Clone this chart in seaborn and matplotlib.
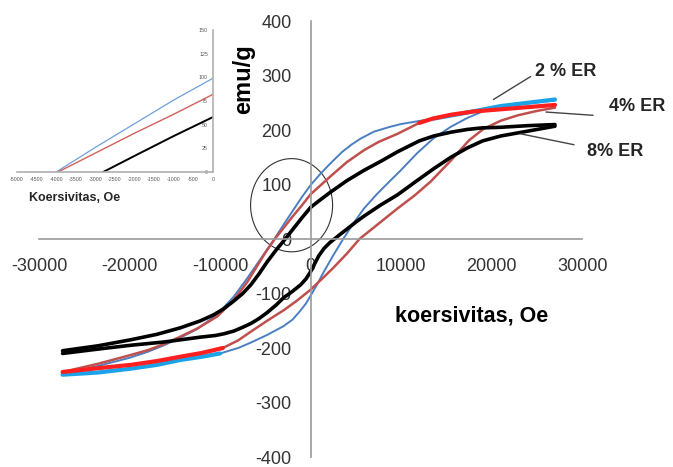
import numpy as np
import matplotlib
matplotlib.use('Agg')
from matplotlib import pyplot as plt
from matplotlib.patches import Ellipse
from matplotlib.ticker import MultipleLocator
import seaborn as sns

# 2 % ER : upper (descending) and lower (ascending) branch
er2_up_x = [27000, 24000, 21000, 17300, 15000, 13600, 11800, 10000, 8800, 7000, 5500, 4500, 3500, 2200, 1000, 0,
            -1000, -2000, -3000, -4000, -5000, -6000, -7000, -8500, -10300, -12500, -14500, -16200, -18000,
            -20000, -23500, -27400]
er2_up_y = [256, 250, 244, 232, 225, 221, 216, 211, 206, 197, 184, 173, 160, 139, 118, 99,
            76, 51, 26, 0, -24, -48, -72, -106, -138, -165, -182, -195, -207,
            -218, -233, -247]
er2_lo_x = [-27400, -23500, -19900, -17000, -14400, -12000, -10000, -8000, -6600, -4800, -3000, -2000, -1200,
            -500, 0, 700, 1400, 2500, 3600, 4700, 5900, 7300, 8800, 9900, 11800, 13600, 15500, 17300, 19000,
            21000, 24000, 27000]
er2_lo_y = [-249, -245, -238, -231, -222, -216, -210, -200, -190, -176, -160, -148, -133,
            -118, -104, -84, -62, -30, 0, 28, 56, 82, 107, 125, 158, 185, 206, 222, 234,
            242, 249, 254]

# 4 % ER
er4_up_x = [27000, 24000, 21000, 18000, 15500, 13500, 12000, 10800, 9600, 7500, 5900, 4000, 2200, 1000, 0,
            -1000, -2000, -3000, -4000, -5000, -6000, -7000, -8500, -10300, -12500, -14500, -16200, -18000,
            -19900, -23500, -27400]
er4_up_y = [246, 242, 238, 234, 228, 221, 213, 203, 193, 178, 163, 141, 115, 97, 82,
            61, 41, 20, -1, -25, -52, -79, -112, -142, -164, -180, -193, -204,
            -213, -229, -244]
er4_lo_x = [-27400, -23500, -19900, -17000, -14400, -12000, -9700, -8000, -6600, -4800, -3000, -1500, 0,
            1200, 2500, 4000, 5400, 7500, 9600, 11500, 13300, 15500, 17500, 19100, 21000, 22900, 25000, 27000]
er4_lo_y = [-244, -237, -231, -224, -216, -209, -200, -186, -170, -150, -131, -113, -93,
            -74, -53, -27, 0, 28, 56, 80, 106, 144, 181, 202, 217, 227, 235, 241]

# 8 % ER
er8_up_x = [27000, 24000, 21000, 19000, 17300, 15500, 13600, 12000, 10800, 9600, 7800, 5900, 4000, 2200, 1000, 0,
            -1000, -2000, -2800, -3800, -4800, -5700, -6600, -7500, -8500, -9600, -10700, -12150, -14400,
            -17000, -19900, -23500, -27400]
er8_up_y = [210, 208, 205, 204, 201, 196, 189, 180, 170, 160, 143, 126, 107, 86, 71, 58,
            38, 17, 0, -20, -42, -64, -84, -100, -114, -128, -139, -150, -163,
            -175, -185, -196, -205]
er8_lo_x = [-27400, -23500, -19900, -16200, -12150, -10500, -9600, -8500, -7500, -6600, -5700, -4800, -3800,
            -3000, -2000, -1100, -500, 0, 400, 900, 1500, 2100, 2700, 3300, 4000, 5000, 5900, 7700, 9600,
            11500, 13600, 15500, 17300, 19000, 21000, 24000, 27000]
er8_lo_y = [-210, -202, -195, -189, -180, -177, -174, -169, -162, -155, -146, -135, -121,
            -108, -96, -84, -73, -60, -47, -31, -17, -7, 1, 9, 18, 31, 42, 62, 81,
            104, 129, 150, 167, 180, 189, 198, 207]

sns.set_style('white')
plt.rcParams['font.family'] = ['Liberation Sans', 'DejaVu Sans']
plt.rcParams['axes.unicode_minus'] = False

AX_GREY = '#9a9a9a'
TXT = '#333333'


def branch(ax, x, y, color, lw):
    sns.lineplot(x=x, y=y, sort=False, estimator=None, color=color, lw=lw, ax=ax)


def bright_part(ax, x, y, keep, color, lw):
    x = np.asarray(x)
    y = np.asarray(y)
    m = keep(x)
    branch(ax, x[m], y[m], color, lw)


fig = plt.figure(figsize=(6.73, 4.67), dpi=100)
ax = fig.add_axes([0.058, 0.0214, 0.807, 0.9336])

# blue loop (2 %)
branch(ax, er2_up_x, er2_up_y, '#4a7fc1', 1.4)
branch(ax, er2_lo_x, er2_lo_y, '#4a7fc1', 1.4)
bright_part(ax, er2_up_x, er2_up_y, lambda v: v >= 13000, '#1aa3e8', 3)
bright_part(ax, er2_lo_x, er2_lo_y, lambda v: v <= -10000, '#1aa3e8', 3)
# red loop (4 %)
branch(ax, er4_up_x, er4_up_y, '#c0504d', 1.8)
branch(ax, er4_lo_x, er4_lo_y, '#c0504d', 1.8)
bright_part(ax, er4_up_x, er4_up_y, lambda v: v >= 11400, '#ff1f1f', 3)
bright_part(ax, er4_lo_x, er4_lo_y, lambda v: v <= -9700, '#ff1f1f', 3)
# black loop (8 %)
branch(ax, er8_up_x, er8_up_y, 'black', 2.6)
branch(ax, er8_lo_x, er8_lo_y, 'black', 2.6)

ax.set_xlim(-30000, 30000)
ax.set_ylim(-400, 400)
ax.set_facecolor('none')
for s in ['top', 'right']:
    ax.spines[s].set_visible(False)
ax.spines['left'].set_position(('data', 0))
ax.spines['bottom'].set_position(('data', 0))
for s in ['left', 'bottom']:
    ax.spines[s].set_color(AX_GREY)
    ax.spines[s].set_linewidth(1.2)
ax.xaxis.set_major_locator(MultipleLocator(10000))
ax.xaxis.set_minor_locator(MultipleLocator(2000))
ax.yaxis.set_major_locator(MultipleLocator(100))
ax.yaxis.set_minor_locator(MultipleLocator(20))
ax.tick_params(which='major', direction='inout', length=7, width=1, color=AX_GREY,
               labelsize=13, labelcolor=TXT)
ax.tick_params(which='minor', direction='inout', length=5, width=1, color=AX_GREY)
ax.tick_params(axis='x', which='major', pad=10)
ax.tick_params(axis='y', which='major', pad=10)
ax.set_xlabel('')
ax.set_ylabel('')

ax.text(-7400, 293, 'emu/g', rotation=90, fontsize=17, fontweight='bold',
        ha='center', va='center', color='black')
ax.text(17800, -142, 'koersivitas, Oe', fontsize=15.5, fontweight='bold',
        ha='center', va='center', color='black')

ax.add_patch(Ellipse((-2100, 62), 9060, 171, fill=False, lw=0.8, ec='#333333'))

# labels with leader lines
ax.plot([20200, 24300], [256, 298], color='#444444', lw=1)
ax.text(28200, 307, '2 % ER', fontsize=13, fontweight='bold', ha='center', va='center', clip_on=False)
ax.plot([26000, 31200], [233, 227], color='#444444', lw=1, clip_on=False)
ax.text(36100, 244, '4% ER', fontsize=13, fontweight='bold', ha='center', va='center', clip_on=False)
ax.plot([23200, 29100], [193, 173], color='#444444', lw=1)
ax.text(33700, 160, '8% ER', fontsize=13, fontweight='bold', ha='center', va='center', clip_on=False)

# inset: zoom of the upper branches around the origin
ins = fig.add_axes([0.0253, 0.6317, 0.291, 0.304])
ins.set_facecolor('none')
branch(ins, er2_up_x, er2_up_y, '#6e9fdc', 0.9)
branch(ins, er4_up_x, er4_up_y, '#d0605d', 1.0)
branch(ins, er8_up_x, er8_up_y, 'black', 1.4)
ins.set_xlim(-5000, 0)
ins.set_ylim(0, 150)
for s in ['top', 'right']:
    ins.spines[s].set_visible(False)
ins.spines['left'].set_position(('data', 0))
for s in ['left', 'bottom']:
    ins.spines[s].set_color('#b0b0b0')
    ins.spines[s].set_linewidth(1.2)
ins.xaxis.set_major_locator(MultipleLocator(500))
ins.yaxis.set_major_locator(MultipleLocator(25))
ins.yaxis.set_minor_locator(MultipleLocator(12.5))
ins.tick_params(which='major', direction='inout', length=3, width=0.6, color='#b0b0b0',
                labelsize=3.8, labelcolor='#555555', pad=2)
ins.tick_params(which='minor', direction='inout', length=2, width=0.6, color='#b0b0b0')
ins.set_xlabel('')
ins.set_ylabel('')
fig.text(0.111, 1 - 198 / 467, 'Koersivitas, Oe', fontsize=9, fontweight='bold',
         ha='center', va='center')

fig.savefig('out.png', dpi=100, facecolor='white')
